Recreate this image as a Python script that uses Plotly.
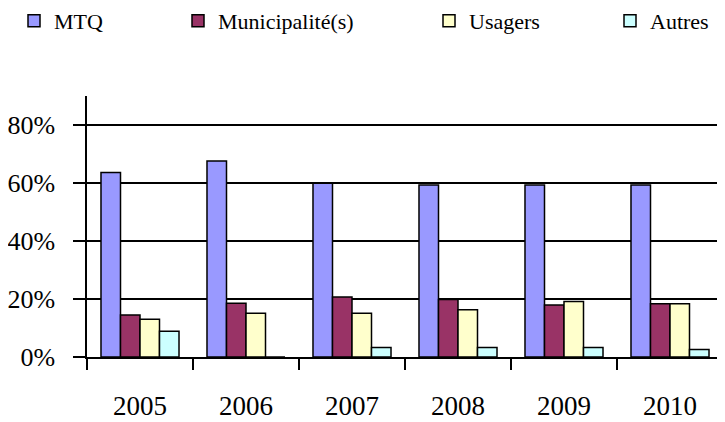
import plotly.graph_objects as go

years = ["2005", "2006", "2007", "2008", "2009", "2010"]
series_names = ["MTQ", "Municipalité(s)", "Usagers", "Autres"]
mtq = [0.636, 0.676, 0.599, 0.593, 0.593, 0.593]
municipalites = [0.145, 0.185, 0.207, 0.198, 0.179, 0.184]
usagers = [0.130, 0.151, 0.151, 0.163, 0.191, 0.184]
autres = [0.089, 0.0, 0.033, 0.033, 0.033, 0.026]
colors = ["#9999FF", "#993366", "#FFFFCC", "#CCFFFF"]
y_ticks = [0, 0.2, 0.4, 0.6, 0.8]

FONT = "Liberation Serif, Times New Roman, serif"
values = [mtq, municipalites, usagers, autres]
legend_ids = ["legend", "legend2", "legend3", "legend4"]
text_starts = [52, 216, 467, 648]  # screen px where legend text begins

OFF = 8  # page body margin offset
W, H = 725, 422
L, T = 87 - OFF, 96 - OFF
R = W - (723 - OFF)
B = H - (357 - OFF)

fig = go.Figure()
for name, vals, col, lg in zip(series_names, values, colors, legend_ids):
    fig.add_trace(go.Bar(
        x=years, y=vals, name=name, legend=lg,
        marker=dict(color=col, line=dict(color="black", width=1.5)),
    ))

layout_legends = {}
for lg, ts in zip(legend_ids, text_starts):
    layout_legends[lg] = dict(
        xref="container", yref="container",
        x=(ts - OFF - 38) / W, xanchor="left",
        y=1 - (21 - OFF) / H, yanchor="middle",
        orientation="h", bgcolor="rgba(0,0,0,0)",
        font=dict(family=FONT, size=22, color="black"),
        borderwidth=0, itemwidth=30,
    )

fig.update_layout(
    width=W, height=H,
    margin=dict(l=L, r=R, t=T, b=B, pad=0, autoexpand=False),
    paper_bgcolor="white", plot_bgcolor="white",
    barmode="group", bargap=0.264, bargroupgap=0,
    showlegend=True,
    font=dict(family=FONT, color="black"),
    **layout_legends,
)
fig.update_xaxes(
    type="category", range=[-0.5, 5.5], automargin=False,
    showline=True, linecolor="black", linewidth=1.5,
    ticks="outside", tickson="boundaries", ticklen=11, tickwidth=1.5, tickcolor="black",
    tickfont=dict(family=FONT, size=27, color="black"),
    ticklabelstandoff=24,
    showgrid=False, zeroline=False,
)
fig.update_yaxes(
    range=[0, 0.9], tickvals=y_ticks, tickformat=".0%", automargin=False,
    showline=True, linecolor="black", linewidth=1.5,
    ticks="outside", ticklen=12, tickwidth=1.5, tickcolor="black",
    tickfont=dict(family=FONT, size=26, color="black"),
    ticklabelstandoff=13,
    showgrid=True, gridcolor="black", gridwidth=1.5,
    zeroline=False,
)

fig.write_html("out.html")
